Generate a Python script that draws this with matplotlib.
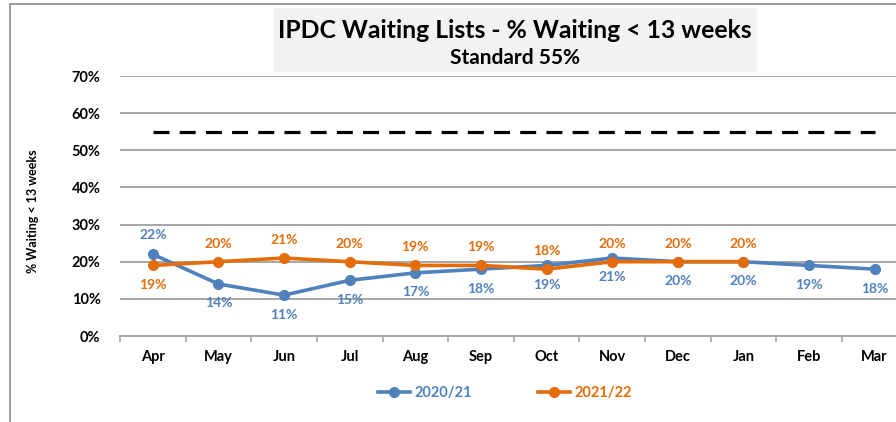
import matplotlib
matplotlib.use("Agg")
import matplotlib.pyplot as plt
from matplotlib.lines import Line2D
from matplotlib.patches import Rectangle
from matplotlib.ticker import PercentFormatter

months = ["Apr", "May", "Jun", "Jul", "Aug", "Sep", "Oct", "Nov", "Dec", "Jan", "Feb", "Mar"]
y2020 = [0.22, 0.14, 0.11, 0.15, 0.17, 0.18, 0.19, 0.21, 0.20, 0.20, 0.19, 0.18]
y2021 = [0.19, 0.20, 0.21, 0.20, 0.19, 0.19, 0.18, 0.20, 0.20, 0.20]
standard = [0.55] * 12

BLUE = "#4F81BD"
ORANGE = "#E46C0A"
GRID = "#A6A6A6"

plt.rcParams["font.family"] = ["Lato", "DejaVu Sans"]

fig = plt.figure(figsize=(8.96, 4.22), dpi=100)
W, H = 896, 422
ax = fig.add_axes([120 / W, 1 - 336 / H, (907.5 - 120) / W, (336 - 76) / H])

x = list(range(len(months)))
ax.plot(x, standard, color="black", lw=2.3, dashes=(5.0, 3.2), zorder=2)
l1, = ax.plot(x, y2020, color=BLUE, lw=2.6, marker="o", ms=7, zorder=3, label="2020/21")
l2, = ax.plot(x[:len(y2021)], y2021, color=ORANGE, lw=2.6, marker="o", ms=7, zorder=4,
              label="2021/22")

# data labels: 2020/21 below (except Apr), 2021/22 above (except Apr)
for i, v in enumerate(y2020):
    off = 14 if i == 0 else -14
    ax.annotate(f"{v*100:.0f}%", (i, v), xytext=(0, off), textcoords="offset points",
                ha="center", va="center", color=BLUE, fontsize=10, fontweight="bold")
for i, v in enumerate(y2021):
    off = -14 if i == 0 else 13
    ax.annotate(f"{v*100:.0f}%", (i, v), xytext=(0, off), textcoords="offset points",
                ha="center", va="center", color=ORANGE, fontsize=10, fontweight="bold")

ax.set_xlim(-0.5, len(months) - 0.5)
ax.set_ylim(0, 0.7)
ax.set_yticks([i / 10 for i in range(8)])
ax.yaxis.set_major_formatter(PercentFormatter(1.0, decimals=0))
ax.grid(axis="y", color=GRID, lw=1.4)
ax.set_axisbelow(True)
for s in ["top", "right", "left"]:
    ax.spines[s].set_visible(False)
ax.spines["bottom"].set_color(GRID)
ax.spines["bottom"].set_linewidth(1.4)

ax.set_xticks(x)
ax.set_xticklabels(months, fontsize=10.5, fontweight="bold")
ax.set_xticks([i - 0.5 for i in range(len(months) + 1)], minor=True)
ax.tick_params(axis="x", which="major", length=0, pad=10)
ax.tick_params(axis="x", which="minor", length=4, color=GRID, width=1.2)
ax.tick_params(axis="y", length=0, pad=14, labelsize=10.5)
for t in ax.get_yticklabels():
    t.set_fontweight("bold")

fig.text(33 / W, 1 - 211 / H, "% Waiting < 13 weeks", rotation=90, ha="center", va="center",
         fontsize=9, fontweight="bold")

# title box
fig.patches.append(Rectangle((274 / W, 1 - 72 / H), (757 - 274) / W, 64 / H,
                             transform=fig.transFigure, facecolor="#F2F2F2", edgecolor="none",
                             zorder=0))
fig.text(515 / W, 1 - 30 / H, "IPDC Waiting Lists - % Waiting < 13 weeks", ha="center",
         va="center", fontsize=17.8, fontweight="bold")
fig.text(515 / W, 1 - 58 / H, "Standard 55%", ha="center", va="center", fontsize=15,
         fontweight="bold")

# outer chart border (left and top visible)
fig.add_artist(Line2D([10 / W, 10 / W, 1], [0, 1 - 4 / H, 1 - 4 / H], color="#8C8C8C",
                      lw=1.2, transform=fig.transFigure))

leg = fig.legend(handles=[l1, l2], loc="center", bbox_to_anchor=(505 / W, 1 - 393 / H),
                 ncol=2, frameon=False, handlelength=2.2, columnspacing=4.5,
                 handletextpad=0.3, prop={"weight": "bold", "size": 10.5})
for t, c in zip(leg.get_texts(), [BLUE, ORANGE]):
    t.set_color(c)

fig.savefig("out.png", dpi=100)
